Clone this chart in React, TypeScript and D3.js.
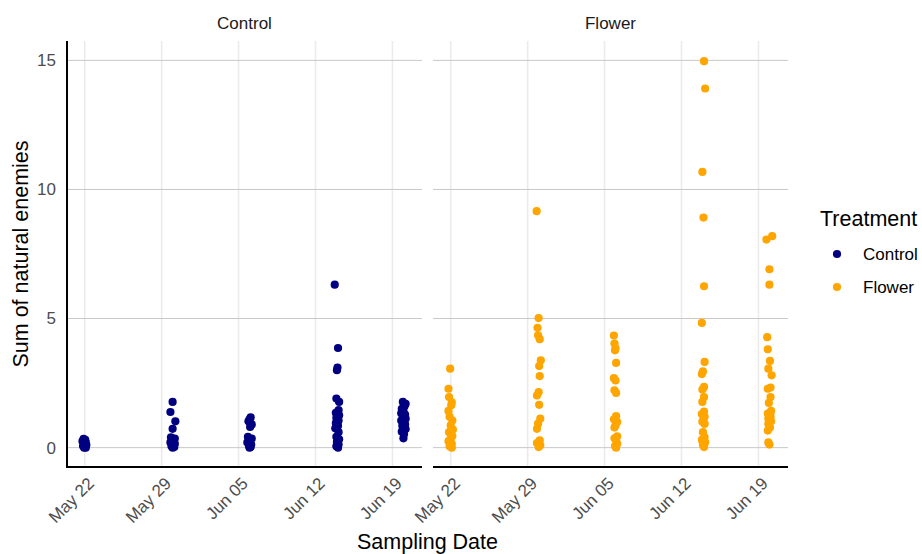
import React from "react";
import * as d3 from "d3";

// Sampling dates (one collection per date, both treatments)
const samplingDates = ["2021-05-22", "2021-05-30", "2021-06-06", "2021-06-14", "2021-06-20"];
const tickDates = ["2021-05-22", "2021-05-29", "2021-06-05", "2021-06-12", "2021-06-19"];
const yTicks = [0, 5, 10, 15];
const treatments = ["Control", "Flower"];
const treatmentColors = ["#000080", "#FFA500"];

// Each entry: [horizontal jitter in days, sum of natural enemies]
const controlMay22: [number, number][] = [
  [-0.1, 0.34], [0.05, 0.3], [-0.2, 0.25], [0.1, 0.2], [-0.05, 0.15], [0.15, 0.1], [-0.15, 0.06], [0.05, 0.03], [-0.05, 0.0], [0.1, 0.0],
];
const controlMay30: [number, number][] = [
  [0.0, 1.77], [-0.2, 1.38], [0.25, 1.02], [0.0, 0.73], [-0.15, 0.4], [0.2, 0.35], [0.05, 0.28], [-0.2, 0.2], [0.2, 0.15], [0.0, 0.1], [-0.1, 0.05], [0.15, 0.02], [0.0, 0.0],
];
const controlJun06: [number, number][] = [
  [0.1, 1.17], [0.0, 1.1], [-0.1, 1.02], [0.2, 0.9], [0.05, 0.8], [-0.15, 0.42], [0.2, 0.35], [0.0, 0.28], [-0.2, 0.2], [0.15, 0.12], [-0.05, 0.06], [0.1, 0.02], [0.0, 0.0],
];
const controlJun14: [number, number][] = [
  [-0.25, 6.31], [0.05, 3.86], [0.0, 3.1], [-0.05, 3.0], [-0.1, 1.9], [0.15, 1.77], [0.1, 1.45], [-0.15, 1.35], [0.15, 1.25], [-0.1, 1.15], [0.1, 1.05], [-0.15, 0.95], [0.05, 0.85], [-0.2, 0.75], [0.1, 0.6], [-0.1, 0.42], [0.15, 0.32], [-0.05, 0.22], [0.1, 0.12], [-0.1, 0.05], [0.05, 0.0],
];
const controlJun20: [number, number][] = [
  [-0.05, 1.77], [0.2, 1.7], [0.1, 1.6], [-0.15, 1.5], [0.0, 1.42], [-0.2, 1.33], [0.15, 1.28], [-0.05, 1.2], [0.2, 1.12], [-0.2, 1.05], [0.05, 0.98], [0.15, 0.9], [-0.1, 0.85], [0.0, 0.78], [0.2, 0.72], [-0.15, 0.62], [0.05, 0.52], [0.0, 0.36],
];

const flowerMay22: [number, number][] = [
  [-0.05, 3.06], [-0.2, 2.28], [-0.15, 1.96], [0.1, 1.75], [0.05, 1.64], [-0.2, 1.42], [-0.1, 1.2], [0.15, 1.05], [0.0, 0.86], [0.2, 0.7], [-0.15, 0.6], [0.15, 0.45], [0.0, 0.35], [-0.2, 0.25], [0.1, 0.15], [-0.1, 0.05], [0.1, 0.0],
];
const flowerMay30: [number, number][] = [
  [-0.18, 9.16], [0.0, 5.02], [-0.1, 4.64], [-0.05, 4.35], [0.1, 4.2], [0.2, 3.38], [0.05, 3.16], [0.1, 2.77], [0.0, 2.15], [-0.15, 2.02], [0.05, 1.66], [0.15, 1.12], [-0.05, 0.93], [-0.15, 0.73], [0.1, 0.28], [-0.15, 0.18], [0.15, 0.09], [0.0, 0.02],
];
const flowerJun06: [number, number][] = [
  [-0.15, 4.34], [-0.1, 4.03], [0.0, 3.85], [-0.05, 3.77], [0.05, 3.28], [-0.15, 2.69], [0.0, 2.6], [-0.1, 2.22], [0.05, 2.12], [0.05, 1.22], [-0.15, 1.1], [0.15, 0.99], [0.0, 0.86], [-0.1, 0.78], [0.15, 0.44], [-0.1, 0.36], [0.05, 0.28], [0.15, 0.15], [-0.05, 0.06], [0.05, 0.0],
];
const flowerJun14: [number, number][] = [
  [0.05, 14.97], [0.15, 13.91], [-0.1, 10.68], [0.0, 8.91], [0.05, 6.25], [-0.15, 4.83], [0.1, 3.32], [-0.05, 2.95], [-0.15, 2.85], [0.05, 2.35], [-0.1, 2.25], [0.05, 1.96], [-0.1, 1.77], [0.05, 1.4], [-0.15, 1.3], [0.1, 1.2], [0.0, 1.1], [-0.1, 1.0], [0.1, 0.92], [-0.05, 0.6], [0.1, 0.4], [-0.15, 0.3], [0.15, 0.2], [-0.05, 0.1], [0.05, 0.02],
];
const flowerJun20: [number, number][] = [
  [0.25, 8.19], [-0.27, 8.06], [0.0, 6.91], [0.0, 6.31], [-0.2, 4.28], [-0.15, 3.81], [0.05, 3.36], [-0.1, 3.06], [0.2, 2.8], [0.1, 2.33], [-0.15, 2.28], [0.1, 1.96], [-0.05, 1.73], [0.15, 1.42], [-0.15, 1.32], [0.1, 1.22], [-0.1, 1.12], [0.15, 1.02], [-0.1, 0.92], [0.05, 0.78], [-0.15, 0.66], [-0.1, 0.2], [0.0, 0.12],
];

const panelData = [
  [controlMay22, controlMay30, controlJun06, controlJun14, controlJun20],
  [flowerMay22, flowerMay30, flowerJun06, flowerJun14, flowerJun20],
];

const FONT = "'Liberation Sans', Arial, Helvetica, sans-serif";
const parse = d3.timeParse("%Y-%m-%d");
const fmt = d3.timeFormat("%b %d");
const DAY = 86400000;

export default function App() {
  const width = 922;
  const height = 554;
  const panelW = 355;
  const panelH = 426;
  const top = 41;
  const panelLefts = [67, 433];
  const titleSize = 21.5;
  const smallSize = 17;

  const start = parse(samplingDates[0])!.getTime();
  const x = d3
    .scaleTime()
    .domain([new Date(start - 1.61 * DAY), new Date(start + 30.69 * DAY)])
    .range([0, panelW]);
  const y = d3.scaleLinear().domain([-0.75, 15.75]).range([panelH, 0]);

  const ticks = tickDates.map((d) => parse(d)!);

  return (
    <svg width={width} height={height} style={{ display: "block", position: "absolute", left: 0, top: 0 }} fontFamily={FONT}>
      <rect width={width} height={height} fill="#fff" />
      {treatments.map((t, pi) => {
        const left = panelLefts[pi];
        return (
          <g key={t} transform={`translate(${left},${top})`}>
            {/* vertical grid */}
            {ticks.map((d, i) => (
              <line key={"v" + i} x1={x(d)} x2={x(d)} y1={0} y2={panelH} stroke="#ebebeb" strokeWidth={1.6} />
            ))}
            {/* horizontal grid */}
            {yTicks.map((v) => (
              <line key={"h" + v} x1={0} x2={panelW} y1={y(v)} y2={y(v)} stroke="#c8c8c8" strokeWidth={1} />
            ))}
            {/* strip label */}
            <text x={panelW / 2} y={-12} textAnchor="middle" fontSize={smallSize} fill="#1a1a1a">
              {t}
            </text>
            {/* points */}
            {panelData[pi].map((grp, gi) => {
              const base = parse(samplingDates[gi])!.getTime();
              return grp.map(([dx, v], k) => (
                <circle
                  key={gi + "-" + k}
                  cx={x(new Date(base + dx * DAY))}
                  cy={y(v)}
                  r={4.1}
                  fill={treatmentColors[pi]}
                />
              ));
            })}
            {/* bottom axis line */}
            <line x1={0} x2={panelW} y1={panelH} y2={panelH} stroke="#000" strokeWidth={2} />
            {pi === 0 && <line x1={0} x2={0} y1={0} y2={panelH + 1} stroke="#000" strokeWidth={2} />}
            {/* x tick labels */}
            {ticks.map((d, i) => (
              <text
                key={"xt" + i}
                transform={`translate(${x(d) + 2},${panelH + 9}) rotate(-45)`}
                textAnchor="end"
                dominantBaseline="hanging"
                fontSize={smallSize}
                fill="#4d4d4d"
              >
                {fmt(d)}
              </text>
            ))}
            {/* y tick labels */}
            {pi === 0 &&
              yTicks.map((v) => (
                <text key={"yt" + v} x={-11} y={y(v)} dy="0.35em" textAnchor="end" fontSize={smallSize} fill="#4d4d4d">
                  {v}
                </text>
              ))}
          </g>
        );
      })}
      {/* axis titles */}
      <text x={(panelLefts[0] + panelLefts[1] + panelW) / 2} y={549} textAnchor="middle" fontSize={titleSize} fill="#000">
        Sampling Date
      </text>
      <text
        transform={`translate(28,${top + panelH / 2}) rotate(-90)`}
        textAnchor="middle"
        fontSize={titleSize}
        fill="#000"
      >
        Sum of natural enemies
      </text>
      {/* legend */}
      <text x={820} y={226} fontSize={titleSize} fill="#000">
        Treatment
      </text>
      {treatments.map((t, i) => (
        <g key={"lg" + t} transform={`translate(0,${254 + i * 33})`}>
          <circle cx={837} cy={0} r={4.1} fill={treatmentColors[i]} />
          <text x={863} y={0} dy="0.35em" fontSize={smallSize} fill="#000">
            {t}
          </text>
        </g>
      ))}
    </svg>
  );
}
